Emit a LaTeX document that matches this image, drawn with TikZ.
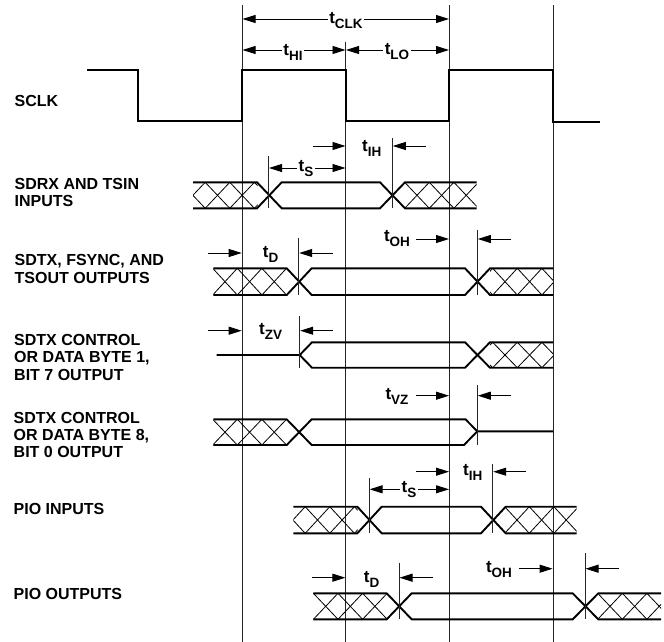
\documentclass[tikz,border=0pt]{standalone}
\usepackage{fontspec}
\setmainfont{Liberation Sans}
\usetikzlibrary{arrows.meta}
\tikzset{
  guide/.style={line width=0.9pt,black!85},
  tick/.style={line width=0.8pt,black!85},
  clk/.style={line width=2pt,line join=miter},
  bus/.style={line width=1.9pt,line join=miter},
  hatchline/.style={line width=0.8pt},
  dim/.style={line width=0.9pt,-{Triangle[length=13pt,width=8pt]}},
  dimb/.style={line width=0.9pt,{Triangle[length=13pt,width=8pt]}-{Triangle[length=13pt,width=8pt]}},
  siglabel/.style={anchor=west,align=left,font=\fontsize{16}{17.3}\selectfont\bfseries,inner sep=0pt},
  tlabel/.style={font=\fontsize{17}{17}\selectfont\bfseries,inner sep=1.5pt,fill=white}
}
\newcommand{\tsub}[2]{t\raisebox{-5pt}{\fontsize{13.5}{14}\selectfont\bfseries #2}}
% hatch X's: #1 left x, #2 right x, #3 top y, #4 bottom y, #5 first crossing x; period 24.6
\newcommand{\hatchlines}[5]{%
  \begin{scope}
    \clip (#1,#3) rectangle (#2,#4);
    \foreach \k in {-3,...,6}{
      \pgfmathsetmacro{\cx}{#5+\k*24.6}
      \draw[hatchline] (\cx-12.3,#3) -- (\cx+12.3,#4);
      \draw[hatchline] (\cx-12.3,#4) -- (\cx+12.3,#3);
    }
  \end{scope}}
\begin{document}
\begin{tikzpicture}[x=1pt,y=-1pt]
\useasboundingbox (0,0) rectangle (664,642);
% guides
\coordinate (g1t) at (242,5);   \coordinate (g1b) at (242,642);
\coordinate (g2t) at (345.7,42);\coordinate (g2b) at (345.7,642);
\coordinate (g3t) at (449.3,5); \coordinate (g3b) at (449.3,642);
\coordinate (g4t) at (553,5);   \coordinate (g4b) at (553,642);
\draw[guide] (g1t)--(g1b) (g2t)--(g2b) (g3t)--(g3b) (g4t)--(g4b);
% SCLK
\draw[clk] (87,70) -| (138,121) -| (242,70) -| (345.7,121) -| (449.3,70) -| (553,121.5) -- (600,121.5);
% SDRX
\hatchlines{193}{257.5}{182.3}{208.3}{217.5}
\hatchlines{405}{476.7}{182.3}{208.3}{417}
\draw[bus] (193,182.3)--(257,182.3)--(281.7,208.3)--(380,208.3)--(405,182.3)--(476.7,182.3);
\draw[bus] (193,208.3)--(257,208.3)--(281.7,182.3)--(380,182.3)--(405,208.3)--(476.7,208.3);
\draw[tick] (268.7,156)--(268.7,208.3) (392.3,138)--(392.3,208.3);
% SDTX
\hatchlines{213.3}{287}{268.3}{295}{225}
\hatchlines{490}{553}{268.3}{295}{505}
\draw[bus] (213.3,268.3)--(286.7,268.3)--(311.7,295)--(465,295)--(490,268.3)--(553,268.3);
\draw[bus] (213.3,295)--(286.7,295)--(311.7,268.3)--(465,268.3)--(490,295)--(553,295);
\draw[tick] (298.7,238)--(298.7,295) (477.3,230)--(477.3,295);
% ZV
\hatchlines{490}{553}{342.3}{367.7}{505}
\draw[bus] (216.7,355)--(299.7,355)--(312,342.3)--(465,342.3)--(490,367.7)--(553,367.7);
\draw[bus] (299.7,355)--(312,367.7)--(465,367.7)--(490,342.3)--(553,342.3);
\draw[tick] (299.7,315.7)--(299.7,368);
% VZ
\hatchlines{213.3}{287}{419.3}{445}{225}
\draw[bus] (213.3,419.3)--(286.7,419.3)--(311.7,445)--(464,445)--(477.3,431.3)--(553,431.3);
\draw[bus] (213.3,445)--(286.7,445)--(311.7,419.3)--(465.5,419.3)--(477.3,431.3);
\draw[tick] (477.3,385)--(477.3,445);
% PIO in
\hatchlines{293.3}{357.5}{506.7}{533.3}{317.5}
\hatchlines{505.7}{576.7}{506.7}{533.3}{517}
\draw[bus] (293.3,506.7)--(357.3,506.7)--(381.7,533.3)--(481,533.3)--(505.7,506.7)--(576.7,506.7);
\draw[bus] (293.3,533.3)--(357.3,533.3)--(381.7,506.7)--(481,506.7)--(505.7,533.3)--(576.7,533.3);
\draw[tick] (369.3,478)--(369.3,533.3) (492.7,464)--(492.7,533.3);
% PIO out
\hatchlines{313.3}{387}{593.3}{619.3}{325.7}
\hatchlines{598.3}{661}{593.3}{619.3}{610}
\draw[bus] (313.3,593.3)--(386.7,593.3)--(411.7,619.3)--(572.7,619.3)--(598.3,593.3)--(661,593.3);
\draw[bus] (313.3,619.3)--(386.7,619.3)--(411.7,593.3)--(572.7,593.3)--(598.3,619.3)--(661,619.3);
\draw[tick] (399,562.7)--(399,619.3) (585,552.7)--(585,619.3);
% dimension arrows
\draw[dimb] (242.5,19)--(449,19);
\node[tlabel] (tclk) at (346,21) {\tsub{t}{CLK}};
\draw[dimb] (242.5,50)--(345.5,50);
\node[tlabel] (thi) at (293,52) {\tsub{t}{HI}};
\draw[dimb] (346,50)--(449,50);
\node[tlabel] (tlo) at (397,52) {\tsub{t}{LO}};
\draw[dimb] (269,168)--(345.5,168);
\node[tlabel] (ts1) at (306,169) {\tsub{t}{S}};
\draw[dim] (312.7,146)--(345.5,146);
\draw[dim] (425.7,146)--(392.8,146);
\node[tlabel] (tih1) at (371.7,148) {\tsub{t}{IH}};
\draw[dim] (208,253)--(241.7,253);
\draw[dim] (332.7,253)--(299.2,253);
\node[tlabel] (td1) at (270.7,254) {\tsub{t}{D}};
\draw[dim] (416,239)--(449,239);
\draw[dim] (510.7,239)--(477.8,239);
\node[tlabel] (toh1) at (397,239) {\tsub{t}{OH}};
\draw[dim] (208,330.7)--(241.7,330.7);
\draw[dim] (332.7,330.7)--(300.2,330.7);
\node[tlabel] (tzv) at (270.7,331) {\tsub{t}{ZV}};
\draw[dim] (416,395.7)--(449,395.7);
\draw[dim] (510.7,395.7)--(477.8,395.7);
\node[tlabel] (tvz) at (397,396) {\tsub{t}{VZ}};
\draw[dimb] (369.6,489.3)--(449,489.3);
\node[tlabel] (ts2) at (409,490) {\tsub{t}{S}};
\draw[dim] (415.7,471.7)--(449,471.7);
\draw[dim] (526,471.7)--(493.2,471.7);
\node[tlabel] (tih2) at (472.7,472) {\tsub{t}{IH}};
\draw[dim] (312.3,577.7)--(345.4,577.7);
\draw[dim] (432.7,577.7)--(399.5,577.7);
\node[tlabel] (td2) at (371.7,579) {\tsub{t}{D}};
\draw[dim] (519,568.7)--(552.6,568.7);
\draw[dim] (619,568.7)--(585.5,568.7);
\node[tlabel] (toh2) at (499,570) {\tsub{t}{OH}};
% signal labels
\node[siglabel] (l1) at (14.5,100.7) {SCLK};
\node[siglabel] (l2) at (14.5,192.3) {SDRX AND TSIN\\INPUTS};
\node[siglabel] (l3) at (14.5,269) {SDTX, FSYNC, AND\\TSOUT OUTPUTS};
\node[siglabel] (l4) at (14,357.3) {SDTX CONTROL\\OR DATA BYTE 1,\\BIT 7 OUTPUT};
\node[siglabel] (l5) at (13.5,435) {SDTX CONTROL\\OR DATA BYTE 8,\\BIT 0 OUTPUT};
\node[siglabel] (l6) at (13.5,509.3) {PIO INPUTS};
\node[siglabel] (l7) at (13.5,594.3) {PIO OUTPUTS};
\end{tikzpicture}
\end{document}
